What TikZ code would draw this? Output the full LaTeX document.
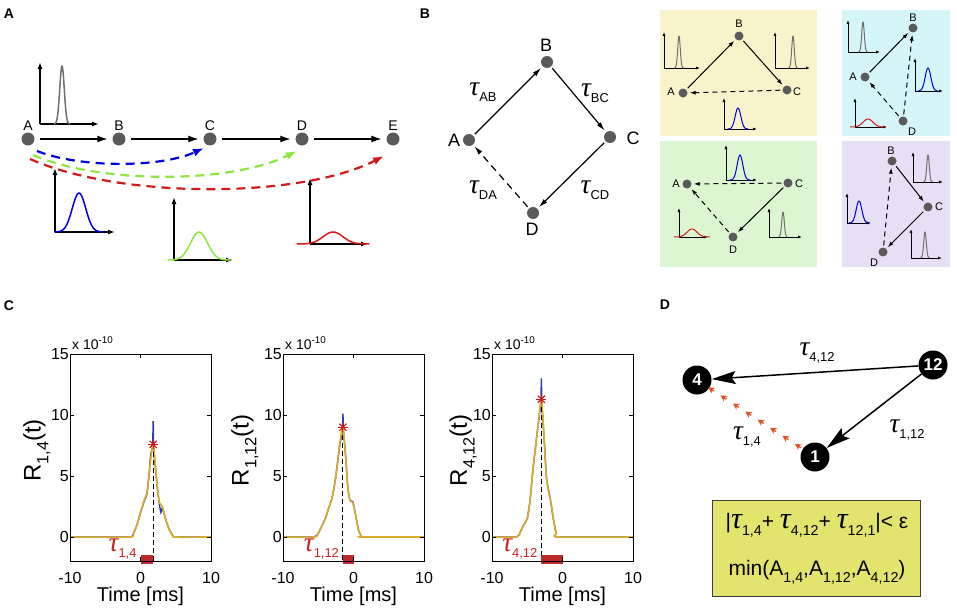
\documentclass[tikz,border=0pt]{standalone}
\usepackage{fontspec}
\setmainfont{Liberation Sans}
\newfontfamily\taufont{Liberation Serif}
\usepackage{graphicx}
\usetikzlibrary{arrows.meta,calc}
\definecolor{ngray}{HTML}{5A5A5A}
\definecolor{yelbg}{HTML}{F9F3CB}
\definecolor{cyanbg}{HTML}{D6F5F8}
\definecolor{grnbg}{HTML}{DDF6D2}
\definecolor{purbg}{HTML}{E7DFF6}
\definecolor{pblue}{HTML}{0000DD}
\definecolor{pgreen}{HTML}{8EE640}
\definecolor{pred}{HTML}{D21A1A}
\definecolor{pkgray}{HTML}{707070}
\definecolor{curvey}{HTML}{D9AC2C}
\definecolor{curveb}{HTML}{2A3FA8}
\definecolor{barred}{HTML}{BE2A2A}
\definecolor{taured}{HTML}{CC2222}
\definecolor{boxy}{HTML}{E3E46E}
\definecolor{chevred}{HTML}{E0502A}

\newcommand\fs[1]{\fontsize{#1}{#1}\selectfont}
\newcommand\lsub[1]{\raisebox{-0.32em}{\scalebox{0.68}{#1}}}
\newcommand\tauc{{\taufont\itshape\scalebox{1.45}{τ}}}

\tikzset{
 anode/.style={circle, fill=ngray, inner sep=0pt, minimum size=13pt},
 bnode/.style={circle, fill=ngray, inner sep=0pt, minimum size=12pt},
 snode/.style={circle, fill=ngray, inner sep=0pt, minimum size=9pt},
 dnode/.style={circle, fill=black, text=white, inner sep=0pt, minimum size=29pt, font=\bfseries\fs{17}},
 aarrow/.style={line width=2pt, -{Latex[length=11pt,width=7pt]}, shorten <=5pt, shorten >=4pt},
 barrow/.style={line width=1.2pt, -{Latex[length=9pt,width=5pt]}, shorten <=2pt, shorten >=2pt},
 sarrow/.style={line width=1pt, -{Latex[length=6pt,width=4pt]}, shorten <=2pt, shorten >=2pt},
 dsh/.style={dash pattern=on 7pt off 5pt},
 sdsh/.style={dash pattern=on 5pt off 4pt},
 carrow/.style={line width=2.2pt, dash pattern=on 9pt off 6pt, -{Latex[length=11pt,width=8pt]}},
 darrow/.style={line width=1.5pt, -{Stealth[length=24pt,width=13pt,inset=4pt]}},
 chev/.style={chevred, line width=1.3pt, -{Stealth[length=6pt,width=6.5pt,inset=1.5pt]}},
 plabel/.style={font=\bfseries\fs{14}},
 alab/.style={font=\fs{14}},
 blab/.style={font=\fs{18}},
 slab/.style={font=\fs{11}},
 taulab/.style={font=\fs{19}},
 axb/.style={line width=2pt, -{Latex[length=7pt,width=5pt]}},
 axs/.style={line width=0.8pt, -{Latex[length=4pt,width=3pt]}},
 cvb/.style={line width=1.5pt},
 cvs/.style={line width=1pt},
}

% mini pulse plot: axis x, axis bottom y, axis top y, axis right x, peak x, peak y, width, colour, size
\newcommand\mplot[9]{%
 \draw[ax#9] (#1,#2) -- (#1,#3);
 \draw[ax#9] (#1,#2) -- (#4,#2);
 \draw[#8, cv#9] plot[domain=#5-2.6*#7:#5+2.6*#7, samples=50] (\x,{#2-(#2-#6)*exp(-((\x-#5)/#7)^2)});
}

% correlation plot
\newcommand\cplot[9]{%
\begin{scope}[shift={(#1pt,-537pt)}, x=7.05pt, y=12.2pt]
 \draw[curveb, line width=1.4pt] plot[smooth, tension=0.3] coordinates {#6};
 \draw[curvey, line width=1.6pt] plot[smooth, tension=0.4] coordinates {#5};
 \draw[line width=1pt, dash pattern=on 5pt off 3pt] (#3,#4) -- (#3,-2);
 \fill[barred] (0,-1.45) rectangle (#3,-2.2);
 \draw[line width=1pt] (-10,-2) rectangle (10,15);
 \foreach \v in {0,5,10} {\draw[line width=0.8pt] (-10,\v) -- ++(4pt,0); \draw[line width=0.8pt] (10,\v) -- ++(-4pt,0);}
 \draw[line width=0.8pt] (0,-2) -- ++(0,4pt);
 \draw[line width=0.8pt] (0,15) -- ++(0,-4pt);
 \foreach \a in {0,45,90,135} \draw[pred, line width=1.1pt] ([shift={(\a:5pt)}]#3,#4) -- ([shift={(\a+180:5pt)}]#3,#4);
 \foreach \v in {0,5,10,15} \node[font=\fs{16}, anchor=east, inner sep=1pt] at (-10,\v) {\v};
 \node[font=\fs{16}, anchor=base] at ([yshift=-22pt]-10,-2) {-10};
 \node[font=\fs{16}, anchor=base] at ([yshift=-22pt]0,-2) {0};
 \node[font=\fs{16}, anchor=base] at ([yshift=-22pt]10,-2) {10};
 \node[font=\fs{20}, anchor=base] at ([yshift=-40pt]0,-2) {Time [ms]};
 \node[font=\fs{14}, anchor=base west, inner sep=0pt] at ([xshift=2pt,yshift=5pt]-10,15) {x 10\textsuperscript{-10}};
 \node[font=\fs{24}, rotate=90] at (#8,7.1) {R\lsub{#2}(t)};
 \node[font=\fs{19}, text=taured, anchor=east, inner sep=1pt] at (#9,-1.0) {\tauc\lsub{#7}};
\end{scope}}

\begin{document}
\begin{tikzpicture}[x=1pt,y=-1pt]
\useasboundingbox (0,0) rectangle (957,610);

% ---------------- Panel A ----------------
\node[plabel] (LA) at (9,14) {A};
\node[anode] (A) at (28,139) {};
\node[anode] (B) at (119,139) {};
\node[anode] (C) at (210,139) {};
\node[anode] (D) at (302,139) {};
\node[anode] (E) at (393,139) {};
\node[alab] (Al) at (28,126) {A};
\node[alab] (Bl) at (119,126) {B};
\node[alab] (Cl) at (210,126) {C};
\node[alab] (Dl) at (302,126) {D};
\node[alab] (El) at (393,126) {E};
\draw[aarrow] (A) -- (B);
\draw[aarrow] (B) -- (C);
\draw[aarrow] (C) -- (D);
\draw[aarrow] (D) -- (E);
\draw[carrow, pblue] ([shift={(9,12)}]A.center) .. controls ([shift={(52,29)}]A.center) and ([shift={(-50,29)}]C.center) .. ([shift={(-6,9)}]C.center);
\draw[carrow, pgreen] ([shift={(5,16)}]A.center) .. controls ([shift={(72,45)}]A.center) and ([shift={(-72,45)}]D.center) .. ([shift={(-5,12)}]D.center);
\draw[carrow, pred] ([shift={(2,20)}]A.center) .. controls ([shift={(92,60)}]A.center) and ([shift={(-93,60)}]E.center) .. ([shift={(-9,17)}]E.center);
\mplot{40}{124}{62}{99}{62}{66}{3.2}{pkgray}{b}
\mplot{55}{232}{168}{115}{79}{193}{9.5}{pblue}{b}
\mplot{174}{260}{197}{233}{199}{232}{12}{pgreen}{b}
\mplot{310}{244}{178}{368}{333}{232}{14}{pred}{b}

% ---------------- Panel B ----------------
\node[plabel] (LB) at (425,14) {B};
\node[bnode] (dA) at (469,140) {};
\node[bnode] (dB) at (547,62) {};
\node[bnode] (dC) at (610,137) {};
\node[bnode] (dD) at (533,213) {};
\node[blab] (dAl) at (454,140) {A};
\node[blab] (dBl) at (546,45) {B};
\node[blab] (dCl) at (633,138) {C};
\node[blab] (dDl) at (532,229) {D};
\draw[barrow] (dA) -- (dB);
\draw[barrow] (dB) -- (dC);
\draw[barrow] (dC) -- (dD);
\draw[barrow, dsh] (dD) -- (dA);
\node[taulab] (tAB) at (483,92) {\tauc\lsub{AB}};
\node[taulab] (tBC) at (595,93) {\tauc\lsub{BC}};
\node[taulab] (tCD) at (595,190) {\tauc\lsub{CD}};
\node[taulab] (tDA) at (483,190) {\tauc\lsub{DA}};

% sub-panels
\fill[yelbg] (660,10) rectangle (817,136);
\fill[cyanbg] (842,10) rectangle (950,136);
\fill[grnbg] (660,141) rectangle (817,267);
\fill[purbg] (842,141) rectangle (950,267);

% yellow
\node[snode] (yA) at (683,93) {};
\node[snode] (yB) at (739,36) {};
\node[snode] (yC) at (787,90) {};
\node[slab] at (671,92) {A};
\node[slab] at (739,24) {B};
\node[slab] at (797,92) {C};
\draw[sarrow] (yA) -- (yB);
\draw[sarrow] (yB) -- (yC);
\draw[sarrow, sdsh] (yC) -- (yA);
\mplot{664}{68}{32}{700}{679}{36}{1.8}{pkgray}{s}
\mplot{775}{68}{32}{810}{793}{36}{1.8}{pkgray}{s}
\mplot{724}{129}{98}{757}{738}{108}{4}{pblue}{s}

% cyan
\node[snode] (cA) at (865,77) {};
\node[snode] (cB) at (913,28) {};
\node[snode] (cD) at (903,121) {};
\node[slab] at (853,77) {A};
\node[slab] at (913,18) {B};
\node[slab] at (912,132) {D};
\draw[sarrow] (cA) -- (cB);
\draw[sarrow, sdsh] (cD) -- (cB);
\draw[sarrow, sdsh] (cD) -- (cA);
\mplot{848}{52}{20}{880}{863}{22}{1.8}{pkgray}{s}
\mplot{915}{91}{58}{943}{928}{68}{4}{pblue}{s}
\mplot{855}{127}{98}{887}{868}{119}{7}{pred}{s}

% green
\node[snode] (gA) at (687,184) {};
\node[snode] (gC) at (788,183) {};
\node[snode] (gD) at (733,237) {};
\node[slab] at (676,184) {A};
\node[slab] at (799,184) {C};
\node[slab] at (733,250) {D};
\draw[sarrow, sdsh] (gC) -- (gA);
\draw[sarrow] (gC) -- (gD);
\draw[sarrow, sdsh] (gD) -- (gA);
\mplot{726}{180}{145}{757}{740}{155}{4}{pblue}{s}
\mplot{679}{237}{208}{708}{692}{229}{7}{pred}{s}
\mplot{769}{237}{208}{802}{783}{212}{1.8}{pkgray}{s}

% purple
\node[snode] (pB) at (892,161) {};
\node[snode] (pC) at (928,207) {};
\node[snode] (pD) at (883,252) {};
\node[slab] at (891,151) {B};
\node[slab] at (939,207) {C};
\node[slab] at (874,263) {D};
\draw[sarrow] (pB) -- (pC);
\draw[sarrow] (pC) -- (pD);
\draw[sarrow, sdsh] (pD) -- (pB);
\mplot{913}{182}{152}{943}{928}{155}{1.8}{pkgray}{s}
\mplot{847}{223}{193}{871}{859}{201}{4}{pblue}{s}
\mplot{911}{258}{229}{942}{925}{232}{1.8}{pkgray}{s}

% ---------------- Panel C ----------------
\node[plabel] (LC) at (9,306) {C};
\cplot{140.5}{1,4}{1.8}{7.6}%
 {(-10,0) (-1.6,0) (-1.0,0.3) (-0.5,1.0) (0,2.0) (0.5,3.0) (0.9,3.6) (1.2,5.0) (1.5,6.6) (1.8,7.6) (2.1,6.0) (2.4,4.0) (2.7,2.8) (3.1,2.5) (3.5,1.6) (4.0,0.7) (4.6,0.1) (5.0,0) (10,0)}%
 {(-10,0) (-1.6,0) (-1.0,0.3) (-0.5,1.0) (0,2.0) (0.5,2.9) (0.9,3.5) (1.2,5.0) (1.45,6.8) (1.72,7.4) (1.8,9.5) (1.88,7.2) (2.1,5.8) (2.4,4.0) (2.7,2.6) (2.9,2.0) (3.1,2.4) (3.5,1.6) (4.0,0.7) (4.6,0.1) (5.0,0) (10,0)}%
 {1,4}{-14.7}{-0.4}
\cplot{353.5}{1,12}{-1.5}{9.0}%
 {(-10,0) (-5.6,0) (-5.0,0.3) (-4.5,0.9) (-4.0,1.5) (-3.5,2.4) (-3.0,3.3) (-2.5,5.0) (-2.0,7.5) (-1.5,9.0) (-1.1,6.5) (-0.8,4.0) (-0.5,3.0) (-0.1,2.8) (0.3,1.8) (0.7,0.6) (1.1,0.05) (1.3,0) (10,0)}%
 {(-10,0) (-5.6,0) (-5.0,0.3) (-4.5,0.9) (-4.0,1.5) (-3.5,2.4) (-3.0,3.3) (-2.5,5.0) (-2.0,7.3) (-1.58,8.8) (-1.5,10.1) (-1.42,8.7) (-1.1,6.5) (-0.8,4.0) (-0.5,3.0) (-0.1,2.9) (0.3,1.8) (0.7,0.6) (1.1,0.05) (1.3,0) (10,0)}%
 {1,12}{-15.4}{-1.9}
\cplot{562.5}{4,12}{-3.0}{11.3}%
 {(-10,0) (-6.5,0) (-6.0,0.4) (-5.5,1.0) (-5.0,1.5) (-4.6,3.0) (-4.2,5.5) (-3.6,8.5) (-3.0,11.3) (-2.6,8.0) (-2.3,5.0) (-2.0,3.8) (-1.7,3.0) (-1.3,1.5) (-0.9,0.3) (-0.6,0) (10,0)}%
 {(-10,0) (-6.5,0) (-6.0,0.4) (-5.5,1.0) (-5.0,1.5) (-4.6,3.0) (-4.2,5.5) (-3.6,8.5) (-3.08,11.0) (-3.0,13.0) (-2.92,10.8) (-2.6,8.0) (-2.3,5.0) (-2.0,3.9) (-1.7,3.0) (-1.3,1.5) (-0.9,0.3) (-0.6,0) (10,0)}%
 {4,12}{-14.1}{-3.4}

% ---------------- Panel D ----------------
\node[plabel] (LD) at (665,305) {D};
\node[dnode] (n4) at (697,380) {4};
\node[dnode] (n12) at (933,365) {12};
\node[dnode] (n1) at (815,457) {1};
\draw[darrow] (n12) -- (n4);
\draw[darrow] (n12) -- (n1);
\foreach \t in {0.12,0.225,0.33,0.435,0.54,0.645,0.75,0.855} {
 \pgfmathsetmacro\u{\t+0.05}
 \draw[chev] ($(n1)!\t!(n4)$) -- ($(n1)!\u!(n4)$);
}
\node[taulab] (t412) at (817,353) {\tauc\lsub{4,12}};
\node[taulab] (t112) at (907,430) {\tauc\lsub{1,12}};
\node[taulab] (t14) at (747,437) {\tauc\lsub{1,4}};
\node[draw=black!75, line width=1pt, fill=boxy, minimum width=208pt, minimum height=96pt] (eqbox) at (816,548) {};
\node[font=\fs{21}] (eq1) at (817,525) {|\tauc\lsub{1,4}+ \tauc\lsub{4,12}+ \tauc\lsub{12,1}|< ε};
\node[font=\fs{21}] (eq2) at (817,572) {min(A\lsub{1,4},A\lsub{1,12},A\lsub{4,12})};
\end{tikzpicture}
\end{document}
